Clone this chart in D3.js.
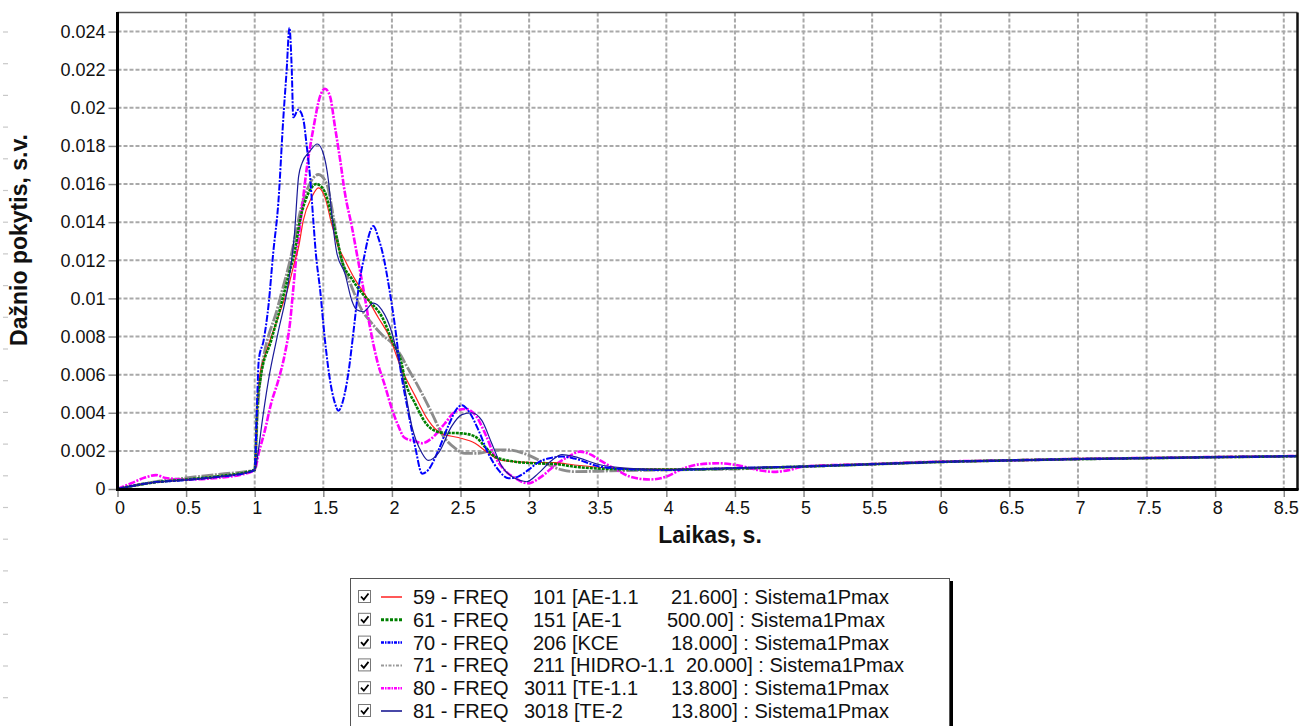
<!DOCTYPE html>
<html><head><meta charset="utf-8">
<script src="https://cdn.jsdelivr.net/npm/d3@7"></script>
<style>
body{margin:0;background:#fff;}
svg text{font-family:Arial,"Liberation Sans",sans-serif;fill:#111;}
</style>
</head><body>
<svg id="c" width="1312" height="726"></svg>
<script>
// ---------- data ----------
const xTicks = [0,0.5,1,1.5,2,2.5,3,3.5,4,4.5,5,5.5,6,6.5,7,7.5,8,8.5];
const xTickLabels = ["0","0.5","1","1.5","2","2.5","3","3.5","4","4.5","5","5.5","6","6.5","7","7.5","8","8.5"];
const yTicks = [0,0.002,0.004,0.006,0.008,0.01,0.012,0.014,0.016,0.018,0.02,0.022,0.024];
const yTickLabels = ["0","0.002","0.004","0.006","0.008","0.01","0.012","0.014","0.016","0.018","0.02","0.022","0.024"];

const legendCol1 = ["59 - FREQ","61 - FREQ","70 - FREQ","71 - FREQ","80 - FREQ","81 - FREQ"];
const legendCol2 = ["101 [AE-1.1","151 [AE-1","206 [KCE","211 [HIDRO-1.1","3011 [TE-1.1","3018 [TE-2"];
const legendCol3 = ["21.600] : Sistema1Pmax","500.00] : Sistema1Pmax","18.000] : Sistema1Pmax","20.000] : Sistema1Pmax","13.800] : Sistema1Pmax","13.800] : Sistema1Pmax"];

const tail = [[5,0.00118],[5.5,0.0013],[6,0.00142],[6.5,0.0015],[7,0.00157],[7.5,0.00162],[8,0.00167],[8.6,0.00172]];

const s59 = [[0,0],[0.25,0.00033],[0.5,0.00048],[0.75,0.00066],[1.0,0.001],[1.02,0.0045],[1.04,0.0061],[1.075,0.007],[1.17,0.009],[1.245,0.0106],[1.29,0.0119],[1.32,0.0127],[1.354,0.0141],[1.415,0.0153],[1.464,0.0158],[1.512,0.0153],[1.561,0.0139],[1.61,0.0127],[1.658,0.012],[1.731,0.011],[1.804,0.0102],[1.9,0.009],[1.974,0.0081],[2.07,0.0063],[2.168,0.0049],[2.265,0.0036],[2.363,0.0029],[2.484,0.0027],[2.606,0.0024],[2.70,0.0019],[2.80,0.0015],[2.994,0.0014],[3.19,0.00138],[3.33,0.00126],[3.6,0.0011],[4.0,0.00104],[4.5,0.0011]].concat(tail);

const s61 = [[0,0],[0.25,0.00033],[0.5,0.0005],[0.75,0.00068],[1.0,0.001],[1.02,0.0045],[1.04,0.0057],[1.12,0.0078],[1.19,0.0096],[1.25,0.0113],[1.29,0.0124],[1.33,0.0141],[1.39,0.0155],[1.45,0.016],[1.51,0.0156],[1.56,0.0143],[1.6,0.0131],[1.635,0.012],[1.71,0.011],[1.78,0.0103],[1.85,0.00975],[1.93,0.009],[2.0,0.0078],[2.07,0.0066],[2.096,0.0057],[2.168,0.0045],[2.265,0.0033],[2.363,0.00296],[2.51,0.00292],[2.606,0.00275],[2.68,0.0022],[2.75,0.0017],[2.9,0.00143],[3.04,0.00135],[3.19,0.00131],[3.33,0.00117],[3.6,0.00105],[4.0,0.00102],[4.5,0.00108]].concat(tail);

const s70 = [[0,0],[0.25,0.00033],[0.5,0.00047],[0.75,0.00065],[0.92,0.00082],[1.0,0.001],[1.015,0.004],[1.03,0.0068],[1.065,0.0078],[1.1,0.0096],[1.135,0.0124],[1.172,0.015],[1.208,0.0194],[1.233,0.022],[1.253,0.0242],[1.27,0.022],[1.281,0.0195],[1.318,0.0199],[1.354,0.0194],[1.379,0.018],[1.403,0.0164],[1.427,0.0141],[1.445,0.0124],[1.476,0.0105],[1.512,0.0078],[1.549,0.0057],[1.585,0.0045],[1.61,0.0041],[1.646,0.0047],[1.683,0.0061],[1.719,0.0082],[1.756,0.0105],[1.804,0.0124],[1.828,0.0132],[1.865,0.0138],[1.90,0.0132],[1.938,0.0122],[1.974,0.0108],[2.023,0.0085],[2.06,0.0064],[2.12,0.004],[2.17,0.0022],[2.22,0.0008],[2.265,0.001],[2.34,0.00205],[2.41,0.0033],[2.484,0.0043],[2.51,0.0044],[2.558,0.0041],[2.63,0.0031],[2.70,0.0019],[2.776,0.001],[2.85,0.00056],[2.92,0.00065],[2.994,0.001],[3.067,0.0014],[3.14,0.0016],[3.24,0.0017],[3.33,0.0016],[3.5,0.0012],[3.7,0.00105],[4.0,0.001],[4.5,0.0011]].concat(tail);

const s71 = [[0,0],[0.25,0.00035],[0.5,0.00058],[0.75,0.00078],[1.0,0.001],[1.02,0.004],[1.04,0.0057],[1.17,0.0096],[1.27,0.0124],[1.29,0.0131],[1.34,0.0148],[1.40,0.016],[1.464,0.0165],[1.525,0.016],[1.561,0.0148],[1.598,0.0132],[1.634,0.012],[1.707,0.0106],[1.78,0.0094],[1.853,0.0087],[1.926,0.0081],[2.0,0.00765],[2.07,0.00695],[2.096,0.0066],[2.19,0.0054],[2.29,0.004],[2.363,0.0029],[2.46,0.00214],[2.533,0.00187],[2.63,0.00187],[2.75,0.00205],[2.85,0.00205],[2.994,0.00178],[3.116,0.00135],[3.24,0.001],[3.33,0.00091],[3.6,0.00095],[4.0,0.001],[4.5,0.00105]].concat(tail);

const s80 = [[0,0],[0.1,0.0003],[0.2,0.0006],[0.28,0.00073],[0.35,0.00058],[0.5,0.0005],[0.75,0.0006],[0.9,0.00075],[1.0,0.001],[1.03,0.0019],[1.075,0.0031],[1.12,0.0045],[1.172,0.0057],[1.22,0.0071],[1.257,0.0087],[1.281,0.0105],[1.306,0.0124],[1.33,0.0138],[1.379,0.0168],[1.427,0.0189],[1.476,0.0206],[1.512,0.021],[1.549,0.0206],[1.585,0.019],[1.622,0.0173],[1.658,0.0155],[1.707,0.0138],[1.743,0.0124],[1.792,0.0105],[1.84,0.0085],[1.89,0.0068],[1.95,0.0054],[2.0,0.0042],[2.047,0.0033],[2.09,0.0027],[2.17,0.0025],[2.22,0.0024],[2.29,0.00266],[2.387,0.00345],[2.46,0.00406],[2.533,0.0042],[2.606,0.0039],[2.68,0.0029],[2.75,0.0017],[2.82,0.001],[2.9,0.00056],[2.99,0.0003],[3.09,0.00065],[3.19,0.00126],[3.286,0.0017],[3.37,0.00196],[3.45,0.0018],[3.517,0.0015],[3.64,0.001],[3.735,0.00065],[3.88,0.0005],[4.0,0.00065],[4.124,0.00108],[4.245,0.0013],[4.39,0.00135],[4.537,0.00122],[4.68,0.00098],[4.78,0.0009],[4.9,0.001],[5.0,0.00118],[5.5,0.00131],[6,0.00144],[6.5,0.0015],[7,0.00158],[7.5,0.00163],[8,0.00168],[8.6,0.00173]];

const s81 = [[0,0],[0.25,0.00033],[0.5,0.00048],[0.75,0.00065],[1.0,0.001],[1.03,0.0022],[1.05,0.0033],[1.1,0.0057],[1.17,0.0082],[1.245,0.0108],[1.29,0.0134],[1.32,0.0164],[1.345,0.0171],[1.40,0.0177],[1.456,0.0181],[1.5,0.0176],[1.537,0.0162],[1.566,0.0141],[1.598,0.0124],[1.658,0.0113],[1.707,0.0099],[1.743,0.0094],[1.792,0.0093],[1.865,0.00975],[1.926,0.0094],[2.0,0.0082],[2.048,0.0068],[2.084,0.0057],[2.096,0.0052],[2.145,0.0033],[2.218,0.0019],[2.265,0.0015],[2.34,0.0019],[2.436,0.0033],[2.51,0.0039],[2.58,0.004],[2.655,0.0036],[2.727,0.0024],[2.80,0.0012],[2.897,0.00056],[2.98,0.00038],[3.067,0.00082],[3.165,0.0015],[3.24,0.0018],[3.33,0.0017],[3.5,0.0013],[3.7,0.0011],[4.0,0.00102],[4.5,0.0011]].concat(tail);

const seriesData = [s59, s61, s70, s71, s80, s81];

// ---------- styles ----------
const styles = [
  {color:"#ff2020", width:1.2, dash:null,        legendColor:"#ff2020", legendWidth:1.5, legendDash:null},
  {color:"#008000", width:2.6, dash:"3,1",       legendColor:"#008000", legendWidth:3,   legendDash:"3,1.5"},
  {color:"#0000ff", width:2,   dash:"7,1.5,2,1.5", legendColor:"#0000ff", legendWidth:2.5, legendDash:"3,1,1.5,1"},
  {color:"#8c8c8c", width:2.8, dash:"12,1.5,2,1.5", legendColor:"#999999", legendWidth:2, legendDash:"3,1.5,1.5,1.5"},
  {color:"#ff00ff", width:2.6, dash:"7,1.5,2,1.5", legendColor:"#ff00ff", legendWidth:2.5, legendDash:"3,1,1.5,1"},
  {color:"#1a1a99", width:1.2, dash:null,        legendColor:"#4848a8", legendWidth:2,   legendDash:null}
];
const drawOrder = [3,4,0,1,2,5];

// ---------- layout ----------
const svg = d3.select("#c");
const L = 117.5, R = 1297.5, T = 12.5, B = 489;
const x = d3.scaleLinear().domain([0, 8.6]).range([L, R]);
const y = d3.scaleLinear().domain([0, 0.025]).range([B, T]);

// left edge decoration marks
svg.append("g").selectAll("line").data(d3.range(0, 23)).join("line")
  .attr("x1", 3).attr("x2", 8)
  .attr("y1", d => 32 + d*31.7).attr("y2", d => 32 + d*31.7)
  .attr("stroke", "#c8c8c8").attr("stroke-width", 1.2);

svg.append("defs").append("clipPath").attr("id","clip")
  .append("rect").attr("x", L).attr("y", T).attr("width", R-L).attr("height", B-T);

// grid
const grid = svg.append("g");
grid.selectAll("line.v").data(xTicks.slice(1)).join("line")
  .attr("x1", d => x(d)).attr("x2", d => x(d)).attr("y1", T).attr("y2", B)
  .attr("stroke", "#a9a9a9").attr("stroke-width", 2).attr("stroke-dasharray", "4,2");
grid.selectAll("line.h").data(yTicks.slice(1)).join("line")
  .attr("x1", L).attr("x2", R).attr("y1", d => y(d)).attr("y2", d => y(d))
  .attr("stroke", "#a9a9a9").attr("stroke-width", 2).attr("stroke-dasharray", "4,2");

// axes with d3
const yAxis = d3.axisLeft(y).tickValues(yTicks).tickFormat((d,i) => yTickLabels[i]).tickSize(9).tickPadding(3);
const gy = svg.append("g").attr("transform", `translate(${L},0)`).call(yAxis);
gy.select(".domain").remove();
gy.selectAll(".tick line").attr("stroke", "#888").attr("stroke-width", 1.5);
gy.selectAll(".tick text").attr("font-size", 18).attr("fill", "#111").attr("font-family", "Arial, Liberation Sans, sans-serif");

const xAxis = d3.axisBottom(x).tickValues(xTicks).tickFormat((d,i) => xTickLabels[i]).tickSize(8).tickPadding(4);
const gx = svg.append("g").attr("transform", `translate(0,${B})`).call(xAxis);
gx.select(".domain").remove();
gx.selectAll(".tick line").attr("stroke", "#888").attr("stroke-width", 1.5);
gx.selectAll(".tick text").attr("font-size", 18).attr("fill", "#111").attr("dx", 2).attr("font-family", "Arial, Liberation Sans, sans-serif");

// series
const line = d3.line().x(d => x(d[0])).y(d => y(d[1])).curve(d3.curveMonotoneX);
const gl = svg.append("g").attr("clip-path", "url(#clip)");
drawOrder.forEach(i => {
  const s = styles[i];
  gl.append("path").datum(seriesData[i])
    .attr("d", line).attr("fill", "none")
    .attr("stroke", s.color).attr("stroke-width", s.width)
    .attr("stroke-dasharray", s.dash).attr("stroke-linejoin", "round");
});

// frame
svg.append("line").attr("x1", L).attr("x2", R).attr("y1", T).attr("y2", T).attr("stroke", "#555").attr("stroke-width", 1.5);
svg.append("line").attr("x1", R).attr("x2", R).attr("y1", T).attr("y2", B+1).attr("stroke", "#111").attr("stroke-width", 2.5);
svg.append("line").attr("x1", L).attr("x2", L).attr("y1", T-0.5).attr("y2", B+1.5).attr("stroke", "#000").attr("stroke-width", 3);
svg.append("line").attr("x1", L-1.5).attr("x2", R+1).attr("y1", B+0.5).attr("y2", B+0.5).attr("stroke", "#000").attr("stroke-width", 3);

// titles
svg.append("text").attr("x", 710).attr("y", 543).attr("text-anchor", "middle")
  .attr("font-size", 23).attr("font-weight", "bold").text("Laikas, s.");
svg.append("text").attr("transform", "translate(27,240) rotate(-90)").attr("text-anchor", "middle")
  .attr("font-size", 23).attr("font-weight", "bold").text("Dažnio pokytis, s.v.");

// legend
const lg = svg.append("g");
lg.append("rect").attr("x", 353).attr("y", 581).attr("width", 600).attr("height", 150).attr("fill", "#000");
lg.append("rect").attr("x", 350.5).attr("y", 578.5).attr("width", 599).attr("height", 150)
  .attr("fill", "#fff").attr("stroke", "#555").attr("stroke-width", 1);
const col2X = [533,533,533,533,524,524];
const col3X = [671,667,671,686,671,671];
const rowY = d => 597 + d*22.8;
styles.forEach((s, i) => {
  const yy = rowY(i);
  lg.append("rect").attr("x", 358.5).attr("y", yy-6.5).attr("width", 12).attr("height", 12)
    .attr("fill", "#fff").attr("stroke", "#777").attr("stroke-width", 1);
  lg.append("path").attr("d", `M361,${yy-0.5} L363.8,${yy+2.5} L368.5,${yy-3.5}`)
    .attr("fill", "none").attr("stroke", "#000").attr("stroke-width", 1.8);
  lg.append("line").attr("x1", 381).attr("x2", 402).attr("y1", yy).attr("y2", yy)
    .attr("stroke", s.legendColor).attr("stroke-width", s.legendWidth).attr("stroke-dasharray", s.legendDash);
  const tt = [[413, legendCol1[i]],[col2X[i], legendCol2[i]],[col3X[i], legendCol3[i]]];
  tt.forEach(([tx, str]) => {
    lg.append("text").attr("x", tx).attr("y", yy + 7).attr("font-size", 20).text(str);
  });
});
</script>
</body></html>
